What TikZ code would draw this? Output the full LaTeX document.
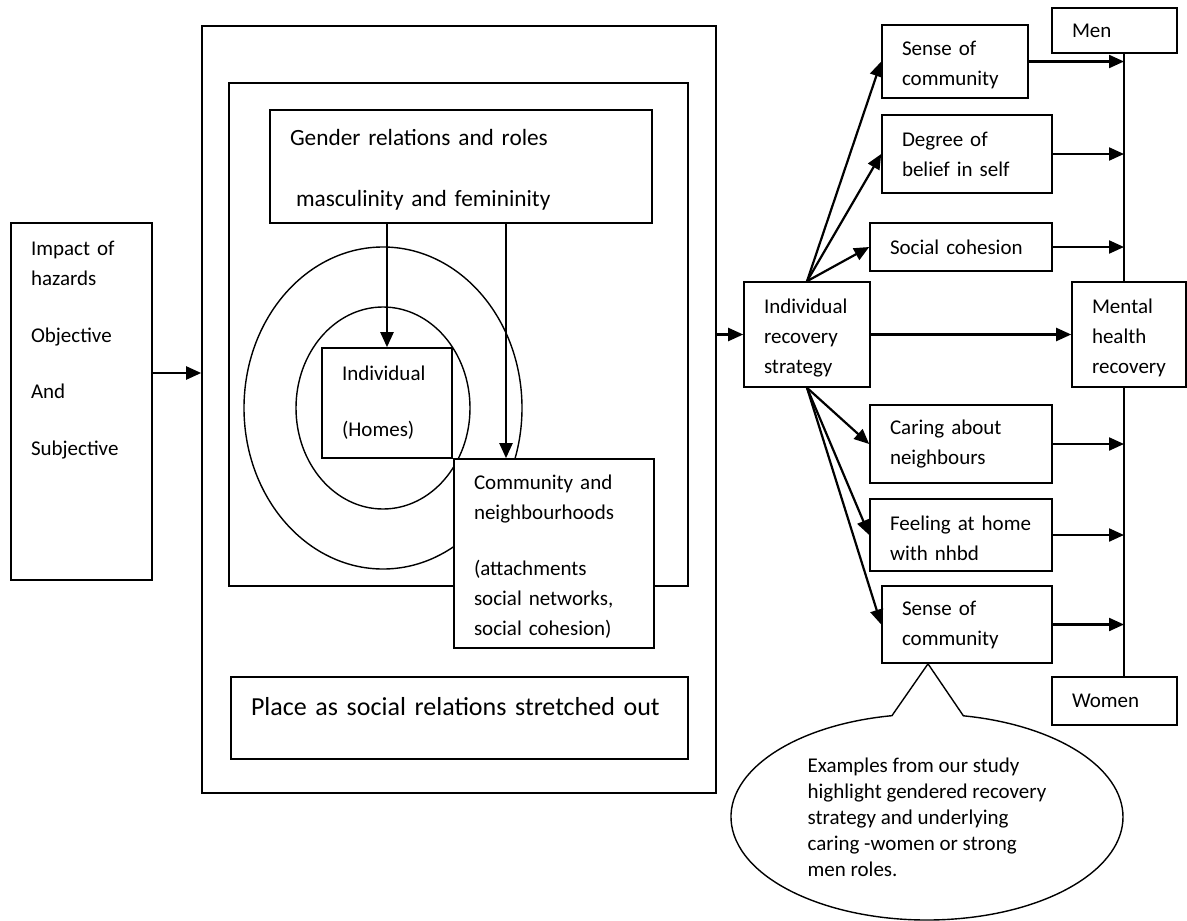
\documentclass[tikz,border=0pt]{standalone}
\usepackage{fontspec}
\setmainfont{Carlito}
\usetikzlibrary{arrows.meta,shapes.callouts}
\begin{document}
\begin{tikzpicture}[x=1pt, y=-1pt,
		box/.style 2 args={draw, line width=1.6pt, fill=white, inner xsep=20pt, inner ysep=0pt, text width=#1pt-40pt, minimum height=#2pt, align=left, font=\fontsize{21}{30}\selectfont},
		frame/.style={draw, line width=1.6pt},
		ring/.style={line width=1.4pt},
		arr/.style={line width=2.2pt, -{Triangle[length=15pt, width=13pt]}}]
			    \useasboundingbox (0, 0) rectangle (1187, 921);
			    \node [frame, minimum width=514pt, minimum height=767pt] at (459, 409.5) (outer) {};
			    \node [frame, minimum width=459pt, minimum height=503pt] at (458.5, 334.5) (inner) {};
			    \draw [ring] (383, 408) ellipse [x radius=139pt, y radius=161pt];
			    \draw [ring] (383, 408) ellipse [x radius=87pt, y radius=101pt];
			    
			    \node [box={141}{357}, text height=32pt, text depth=325pt] at (81.5, 401.5) (impact) {Impact of\\hazards\\[27pt]Objective\\[26pt]And\\[27pt]Subjective};
			    \node [box={382}{113}, font=\fontsize{23.3}{30}\selectfont, text height=23pt] at (461, 166.5) (gender) {Gender relations and roles\\[31pt]\hspace*{6pt}masculinity and femininity};
			    \node [box={130}{110}] at (387, 403) (indiv) {Individual\\[26pt](Homes)};
			    \node [box={200}{189}, text height=21pt] at (554, 553.5) (comm) {Community and\\neighbourhoods\\[26pt](attachments\\social networks,\\social cohesion)};
			    \node [box={457}{82}, font=\fontsize{26}{32}\selectfont, text height=38pt, text depth=44pt] at (459.5, 718) (place) {Place as social relations stretched out};
			    \draw [arr] (gender.south -| indiv.north) -- (indiv.north);
			    \draw [arr] ([xshift=-48pt]comm.north |- gender.south) -- ([xshift=-48pt]comm.north);
			    \draw [arr] ([yshift=28.5pt]impact.east) -- ([yshift=28.5pt]impact.east -| outer.west);
			    
			    \node [box={126}{105}, text height=21pt] at (807, 334.5) (irs) {Individual\\recovery\\strategy};
			    \node [box={114}{105}, text height=21pt] at (1129, 334.5) (mh) {Mental\\health\\recovery};
			    \node [box={125}{45}] at (1114.5, 30.5) (men) {Men};
			    \node [box={125}{48}] at (1114.5, 701) (women) {Women};
			    \node [box={146}{73}, text height=21pt] at (955, 61.5) (sensea) {Sense of\\community};
			    \node [box={170}{78}] at (967, 154) (degree) {Degree of\\belief in self};
			    \node [box={182}{48}] at (961, 247) (social) {Social cohesion};
			    \node [box={182}{78}] at (961, 444) (caring) {Caring about\\neighbours};
			    \node [box={182}{72}, text height=21pt] at (961, 535) (feeling) {Feeling at home\\with nhbd};
			    \node [box={170}{77}] at (967, 624.5) (senseb) {Sense of\\community};
			    \node [ellipse callout, draw, line width=1.4pt, fill=white, minimum width=392pt, minimum height=206pt, inner sep=0pt, callout absolute pointer={([xshift=-39pt]senseb.south)}, callout pointer arc=21, align=left, font=\fontsize{21}{26}\selectfont] at (927, 817) (note) {Examples from our study\\highlight gendered recovery\\strategy and underlying\\caring -women or strong\\men roles.};
			    
			    \coordinate (spine) at (1124, 0);
			    \draw [line width=1.6pt] (men.south -| spine) -- (mh.north -| spine);
			    \draw [line width=1.6pt] (mh.south -| spine) -- (women.north -| spine);
			    \draw [arr] (outer.east |- irs.west) -- (irs.west);
			    \draw [arr] (irs.east) -- (mh.west);
			    \draw [arr] (irs.north) -- (sensea.west);
			    \draw [arr] (irs.north) -- (degree.west);
			    \draw [arr] (irs.north) -- (social.west);
			    \draw [arr] (irs.south) -- (caring.west);
			    \draw [arr] (irs.south) -- (feeling.west);
			    \draw [arr] (irs.south) -- (senseb.west);
			    \draw [arr] (sensea.east) -- (sensea.east -| spine);
			    \draw [arr] (degree.east) -- (degree.east -| spine);
			    \draw [arr] (social.east) -- (social.east -| spine);
			    \draw [arr] (caring.east) -- (caring.east -| spine);
			    \draw [arr] (feeling.east) -- (feeling.east -| spine);
			    \draw [arr] (senseb.east) -- (senseb.east -| spine);
		    \end{tikzpicture}
\end{document}
